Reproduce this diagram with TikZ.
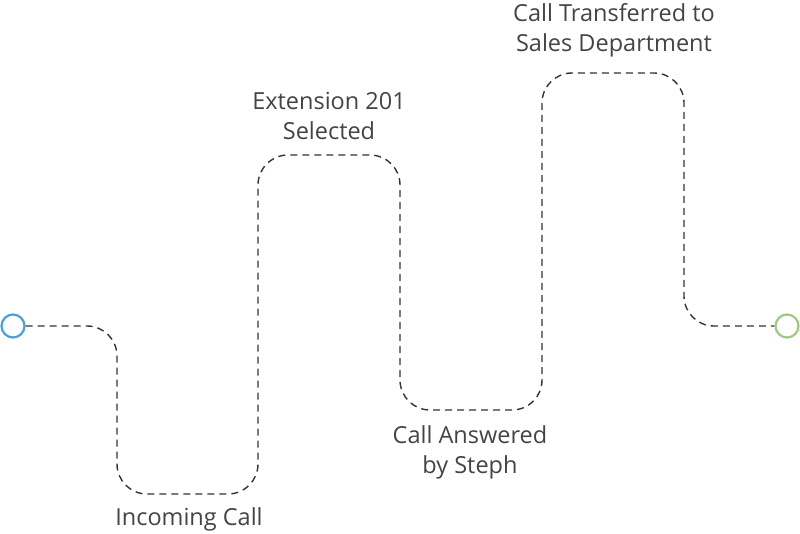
\documentclass[tikz,border=0pt]{standalone}
\usepackage{fontspec}
\setmainfont{Open Sans}
\usetikzlibrary{positioning}
\definecolor{startblue}{HTML}{4A9FE0}
\definecolor{endgreen}{HTML}{9CCB7C}
\definecolor{labelgray}{HTML}{444444}
\tikzset{
    terminal/.style={circle,draw,line width=2.2pt,minimum size=23pt,inner sep=0pt},
    route/.style={dash pattern=on 7pt off 5pt,line width=1.4pt,draw=black!80,rounded corners=30pt},
    caption/.style={align=center,text=labelgray,font=\fontsize{23.5}{30}\selectfont}
}

\begin{document}
\begin{tikzpicture}[x=1pt,y=-1pt]
                \useasboundingbox (0,0) rectangle (800,533);

                \node[terminal,draw=startblue] (start) at (13,326) {};
                \node[terminal,draw=endgreen]  (stop)  at (787,326) {};

                \coordinate (c1) at (117,326);
                \coordinate (c2) at (117,494);
                \coordinate (c3) at (258,494);
                \coordinate (c4) at (258,155);
                \coordinate (c5) at (400,155);
                \coordinate (c6) at (400,410);
                \coordinate (c7) at (542,410);
                \coordinate (c8) at (542,73);
                \coordinate (c9) at (684,73);
                \coordinate (c10) at (684,326);

                \draw[route] (start) -- (c1) -- (c2) -- (c3) -- (c4) -- (c5) -- (c6)
                    -- (c7) -- (c8) -- (c9) -- (c10) -- (stop);

                \node[caption] (incoming)    at (189,519) {Incoming Call};
                \node[caption] (extension)   at (329,116) {Extension 201\\Selected};
                \node[caption] (answered)    at (470,452) {Call Answered\\by Steph};
                \node[caption] (transferred) at (614,30)  {Call Transferred to\\Sales Department};

            \end{tikzpicture}
\end{document}
